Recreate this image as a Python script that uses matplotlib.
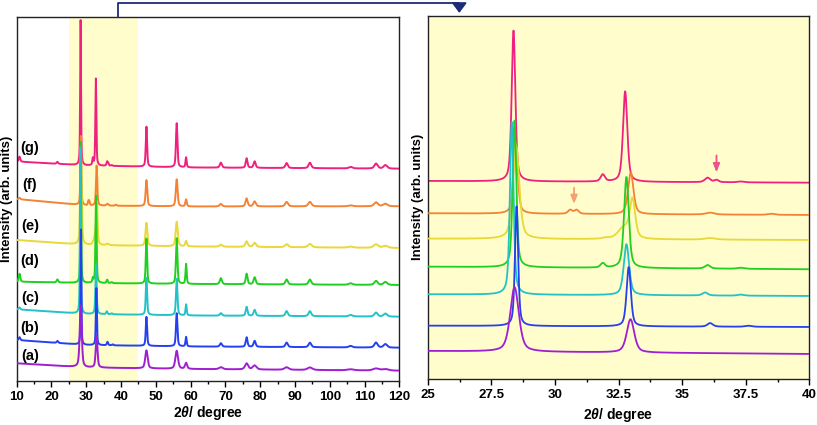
import numpy as np
import matplotlib
matplotlib.use("Agg")
import matplotlib.pyplot as plt
from matplotlib.lines import Line2D
from matplotlib.patches import FancyArrowPatch

plt.rcParams['font.family'] = ['Liberation Sans', 'DejaVu Sans']
plt.rcParams['font.weight'] = 'bold'
plt.rcParams['mathtext.fontset'] = 'custom'
plt.rcParams['mathtext.it'] = 'Liberation Sans:italic:bold'
plt.rcParams['mathtext.rm'] = 'Liberation Sans:bold'

# ---------------- data ----------------
labels = ['(a)', '(b)', '(c)', '(d)', '(e)', '(f)', '(g)']
colors = ['#a01ed2', '#2440f0', '#22c2c8', '#20d020', '#e8d838', '#f58232', '#f0207e']

# common reflections (2theta, deg) and their widths
peak_pos = [47.3, 56.0, 58.7, 68.7, 76.1, 78.4, 87.6, 94.3, 106.0, 113.3, 116.0]
peak_fwhm = [0.45, 0.50, 0.40, 0.70, 0.60, 0.70, 0.80, 0.90, 1.20, 1.10, 1.20]

# two main reflections per sample: position, height, fwhm
main1_pos = [28.41, 28.49, 28.30, 28.41, 28.47, 28.45, 28.37]
main1_h = [62, 115, 166, 141, 90, 69, 145]
main1_w = [0.40, 0.15, 0.17, 0.17, 0.30, 0.20, 0.17]
main2_pos = [32.97, 32.90, 32.81, 32.81, 33.05, 32.98, 32.76]
main2_h = [32, 57, 49, 87.5, 36, 40, 87]
main2_w = [0.35, 0.20, 0.25, 0.22, 0.25, 0.25, 0.20]

# heights of the common reflections per sample
heights_a = [18, 18, 6, 2, 6, 4, 2.5, 2.5, 1, 2, 1.5]
heights_b = [29, 33, 9.5, 3.5, 9.5, 6, 4.5, 4.5, 1.5, 5, 3.5]
heights_c = [37, 36.5, 11, 2.5, 9, 6, 5, 5, 1.5, 4, 3]
heights_d = [45, 45.6, 20, 6, 10.6, 7, 5, 5, 1.5, 4, 3]
heights_e = [23, 24.5, 5.5, 2, 5.5, 4, 3, 3.5, 1, 3.5, 2]
heights_f = [26, 27, 7, 2.5, 8, 5, 4.5, 4.5, 1, 4, 2.5]
heights_g = [40, 44, 10, 5, 9.5, 6.5, 5, 5.5, 1.5, 5, 3.5]
heights = [heights_a, heights_b, heights_c, heights_d, heights_e, heights_f, heights_g]
width_mult = [1.8, 1.0, 1.0, 1.0, 1.4, 1.2, 1.0]

# minor reflections per sample: (position, height, fwhm)
minor_a = []
minor_b = [(10.8, 3, 0.3), (21.7, 2, 0.3), (36.1, 3.4, 0.25), (37.6, 1.0, 0.3)]
minor_c = [(10.8, 2, 0.3), (35.9, 2.9, 0.25), (37.3, 1.0, 0.3)]
minor_d = [(10.8, 8, 0.3), (21.7, 3, 0.3), (31.88, 4.3, 0.2), (36.0, 3.4, 0.25), (37.3, 1.0, 0.3)]
minor_e = [(32.72, 11, 0.55), (32.0, 1.0, 0.3), (36.1, 1.5, 0.5)]
minor_f = [(10.8, 1.5, 0.3), (30.6, 3.8, 0.2), (30.85, 3.8, 0.2), (36.1, 1.8, 0.4), (38.5, 1.0, 0.3)]
minor_g = [(10.8, 5, 0.3), (21.7, 2, 0.3), (31.88, 6.7, 0.2), (36.0, 4.3, 0.25), (36.35, 2.2, 0.2), (37.3, 0.8, 0.3)]
minors = [minor_a, minor_b, minor_c, minor_d, minor_e, minor_f, minor_g]

# baselines of the stacked traces, left panel (anchors at 10, 30, 60, 120 deg)
base_x = [10, 30, 60, 120]
base_left = [[17.7, 13.5, 12.0, 10.3],
             [41.0, 36.0, 34.5, 33.3],
             [71.7, 67.0, 65.5, 64.3],
             [99.3, 98.0, 97.0, 96.0],
             [141.0, 136.0, 134.5, 133.0],
             [182.0, 175.5, 174.5, 174.7],
             [219.5, 215.5, 213.5, 212.3]]
# baselines, right panel (at 25 and 40 deg)
base_right = [[28.0, 25.0], [53.3, 52.0], [84.7, 83.0], [112.3, 109.7],
              [140.3, 139.0], [165.7, 164.0], [198.0, 196.3]]
right_scale = 1.04

label_x = 13.8
label_y = [25.3, 52.7, 83.3, 120, 155, 196, 232.7]

# arrows in the zoomed panel: x, y_start, y_end, colour
arrow_x = [30.75, 36.35]
arrow_y0 = [194.0, 226.3]
arrow_y1 = [172.3, 204.0]
arrow_colors = ['#f5a070', '#f0508c']

shade_range = (25, 45)
left_xlim = (10, 120)
right_xlim = (25, 40)


def pv(x, x0, h, w, eta=0.5):
    g = np.exp(-4 * np.log(2) * ((x - x0) / w) ** 2)
    lo = 1.0 / (1.0 + 4 * ((x - x0) / w) ** 2)
    return h * (eta * lo + (1 - eta) * g)


def profile(x, i, sharp_factor=1.0):
    y = pv(x, main1_pos[i], main1_h[i], main1_w[i] * sharp_factor)
    y += pv(x, main2_pos[i], main2_h[i], main2_w[i] * sharp_factor)
    for p, h, w in zip(peak_pos, heights[i], peak_fwhm):
        y += pv(x, p, h, w * width_mult[i])
    for p, h, w in minors[i]:
        y += pv(x, p, h, w * sharp_factor)
    return y


W, H = 817, 425
fig = plt.figure(figsize=(W / 100, H / 100), dpi=100)
axL = fig.add_axes([16.7 / W, 1 - 381 / H, (399.3 - 16.7) / W, (381 - 16.7) / H])
axR = fig.add_axes([427.8 / W, 1 - 379 / H, (809.3 - 427.8) / W, (379 - 15.7) / H])

shade = '#fffdcc'
axL.axvspan(*shade_range, color=shade, lw=0, zorder=0)
axR.set_facecolor(shade)

xl = np.arange(left_xlim[0], left_xlim[1] + 0.005, 0.01)
xr = np.arange(right_xlim[0], right_xlim[1] + 0.0025, 0.005)

order = [6, 5, 4, 3, 2, 1, 0]
for z, i in enumerate(order):
    yl = np.interp(xl, base_x, base_left[i]) + profile(xl, i, 1.7)
    axL.plot(xl, yl, color=colors[i], lw=1.4, zorder=2 + z)
    yr = np.interp(xr, list(right_xlim), base_right[i]) + right_scale * profile(xr, i)
    axR.plot(xr, yr, color=colors[i], lw=1.3, zorder=2 + z)

for i, lab in enumerate(labels):
    axL.text(label_x, label_y[i], lab, fontsize=10.5, fontweight='bold',
             ha='center', va='center', zorder=20)

for ax_x, y0, y1, c in zip(arrow_x, arrow_y0, arrow_y1, arrow_colors):
    axR.annotate('', xy=(ax_x, y1), xytext=(ax_x, y0),
                 arrowprops=dict(arrowstyle='-|>,head_length=0.5,head_width=0.2',
                                 color=c, lw=1.3), zorder=20)

axL.set_xlim(*left_xlim)
axL.set_ylim(0, 364.3)
axR.set_xlim(*right_xlim)
axR.set_ylim(0, 363.3)

axL.set_xticks(np.arange(10, 121, 10))
axL.set_xticks(np.arange(15, 120, 10), minor=True)
axR.set_xticks(np.arange(25, 40.01, 2.5))
axR.set_xticks(np.arange(26.25, 40, 2.5), minor=True)
axR.set_xticklabels(['25', '27.5', '30', '32.5', '35', '37.5', '40'])

for ax in (axL, axR):
    ax.set_yticks([])
    ax.tick_params(axis='x', which='major', direction='out', length=4, width=1,
                   labelsize=9.5, pad=3)
    ax.tick_params(axis='x', which='minor', direction='out', length=2.5, width=1)
    for s in ax.spines.values():
        s.set_linewidth(1.0)
        s.set_color('#222222')
    ax.set_ylabel('Intensity (arb. units)', fontsize=9.5, fontweight='bold', labelpad=3)
    for t in ax.get_xticklabels():
        t.set_fontweight('bold')

axL.set_xlabel(r'2$\mathit{\theta}$/ degree', fontsize=10, fontweight='bold', labelpad=1)
axR.set_xlabel(r'2$\mathit{\theta}$/ degree', fontsize=10, fontweight='bold', labelpad=3.5)

# connector between panels (figure pixel coordinates)
navy = '#1c2c78'
px = [117.7, 117.7, 459.3, 459.3]
py = [17.0, 2.5, 2.5, 10.0]
fig.add_artist(Line2D([v / W for v in px], [1 - v / H for v in py],
                      transform=fig.transFigure, color=navy, lw=1.3))
fig.add_artist(FancyArrowPatch(
    (459.3 / W, 1 - 6 / H), (459.3 / W, 1 - 15.7 / H), transform=fig.transFigure,
    arrowstyle='-|>,head_length=4,head_width=3', color=navy, lw=1.3,
    mutation_scale=1.5))

fig.savefig('out.png', dpi=100)
